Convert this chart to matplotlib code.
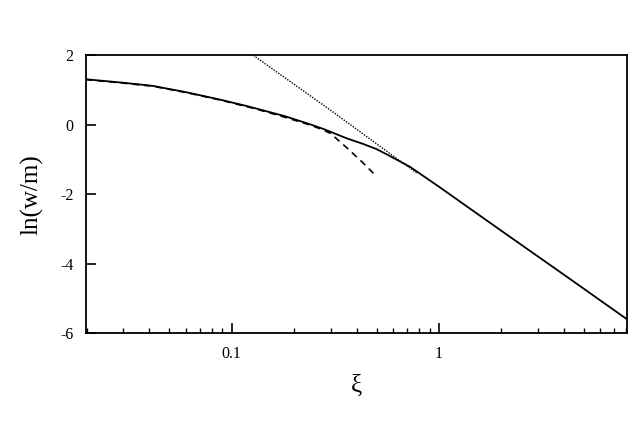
import matplotlib
matplotlib.use("Agg")
import matplotlib.pyplot as plt
from matplotlib.ticker import LogLocator, FixedLocator, NullFormatter

# exact curve
xi_exact = [0.0198, 0.03, 0.0416, 0.06, 0.087, 0.12, 0.18, 0.24, 0.277, 0.359,
            0.43, 0.50, 0.58, 0.725, 1.01, 2.0, 4.0, 8.05]
lnw_exact = [1.31, 1.21, 1.12, 0.94, 0.73, 0.53, 0.25, 0.01, -0.12, -0.39,
             -0.55, -0.70, -0.90, -1.21, -1.80, -3.05, -4.31, -5.59]

# small-xi expansion (dashed)
xi_small = [0.0198, 0.03, 0.0416, 0.06, 0.087, 0.13, 0.18, 0.24, 0.277, 0.30, 0.359, 0.424, 0.491]
lnw_small = [1.30, 1.20, 1.11, 0.93, 0.72, 0.46, 0.22, -0.01, -0.15, -0.25, -0.66, -1.06, -1.44]

# large-xi asymptote (dotted)
xi_large = [0.127, 0.298, 0.673, 0.78]
lnw_large = [2.0, 0.43, -1.11, -1.38]

y_ticks = [2, 0, -2, -4, -6]
y_ticklabels = ["2", "0", "-2", "-4", "-6"]
x_ticks = [0.1, 1]
x_ticklabels = ["0.1", "1"]

plt.rcParams['font.family'] = ['Liberation Serif', 'DejaVu Serif']

fig = plt.figure(figsize=(6.34, 4.22), dpi=100)
ax = fig.add_axes([86/634, 1 - 333.3/422, (626.7-86)/634, (333.3-55.3)/422])

ax.plot(xi_exact, lnw_exact, color='black', lw=1.3, solid_joinstyle='round')
ax.plot(xi_small, lnw_small, color='black', lw=1.2, linestyle=(0, (4, 3)))
ax.plot(xi_large, lnw_large, color='black', lw=1.0, linestyle=(0, (1, 1)))

ax.set_xscale('log')
ax.set_xlim(0.0198, 8.05)
ax.set_ylim(-6, 2)

ax.xaxis.set_major_locator(FixedLocator(x_ticks))
ax.set_xticklabels(x_ticklabels)
ax.xaxis.set_minor_locator(LogLocator(base=10, subs=range(2, 10)))
ax.xaxis.set_minor_formatter(NullFormatter())
ax.set_yticks(y_ticks)
ax.set_yticklabels(y_ticklabels)

ax.tick_params(axis='both', which='both', direction='in', top=False, right=False,
               labelsize=11.5, pad=9)
ax.tick_params(axis='both', which='major', length=7, width=1.2)
ax.tick_params(axis='x', which='minor', length=3.5, width=1.0)

for s in ax.spines.values():
    s.set_linewidth(1.3)

ax.set_xlabel('ξ', fontsize=18, labelpad=9)
ax.set_ylabel('ln(w/m)', fontsize=18, labelpad=12)

fig.savefig('out.png', dpi=100)
